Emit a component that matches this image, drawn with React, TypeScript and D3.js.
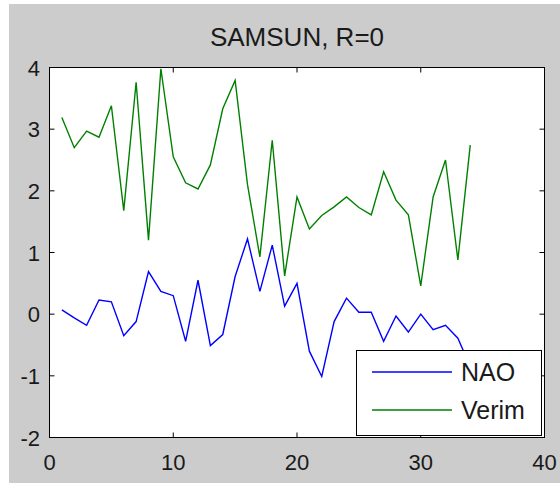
import React from "react";
import * as d3 from "d3";

const years = d3.range(1, 35);
const nao = [0.07, -0.06, -0.18, 0.23, 0.2, -0.35, -0.12, 0.69, 0.37, 0.3, -0.44, 0.55, -0.51, -0.33, 0.61, 1.22, 0.37, 1.12, 0.13, 0.5, -0.6, -1.01, -0.12, 0.26, 0.03, 0.03, -0.44, -0.03, -0.29, 0.0, -0.25, -0.18, -0.39, -0.85];
const verim = [3.19, 2.7, 2.97, 2.87, 3.38, 1.68, 3.76, 1.2, 3.98, 2.55, 2.13, 2.03, 2.42, 3.33, 3.79, 2.1, 0.93, 2.82, 0.62, 1.9, 1.38, 1.6, 1.74, 1.9, 1.73, 1.61, 2.31, 1.85, 1.61, 0.46, 1.9, 2.5, 0.88, 2.74];
const xTicks = [0, 10, 20, 30, 40];
const yTicks = [-2, -1, 0, 1, 2, 3, 4];
const title = "SAMSUN, R=0";
const seriesNames = ["NAO", "Verim"];
const seriesColors = ["#0000ff", "#008000"];

export default function App() {
  const W = 560, H = 485;
  const L = 49.5, R = 544.5, T = 67.5, B = 437.5;
  const x = d3.scaleLinear().domain([0, 40]).range([L, R]);
  const y = d3.scaleLinear().domain([-2, 4]).range([B, T]);
  const line = d3.line<number>().x((_, i) => x(years[i])).y((d) => y(d));
  const font = "'Liberation Sans', Arial, sans-serif";
  const tl = 5;
  const series = [nao, verim];
  return (
    <svg width={W} height={H} style={{ position: "absolute", left: 0, top: 0 }} fontFamily={font}>
      <rect x={0} y={0} width={W} height={H} fill="#ffffff" />
      <rect x={9} y={4} width={W - 9} height={479} fill="#cccccc" />
      <rect x={L} y={T} width={R - L} height={B - T} fill="#ffffff" />
      <text x={(L + R) / 2} y={46} textAnchor="middle" fontSize={26} fill="#1a1a1a">{title}</text>
      <defs>
        <clipPath id="plot">
          <rect x={L} y={T} width={R - L} height={B - T} />
        </clipPath>
      </defs>
      <g clipPath="url(#plot)" fill="none" strokeWidth={1.4}>
        {series.map((s, i) => (
          <path key={i} d={line(s) || ""} stroke={seriesColors[i]} />
        ))}
      </g>
      <g stroke="#000" strokeWidth={1}>
        {xTicks.map((t) => (
          <g key={"x" + t}>
            <line x1={x(t)} x2={x(t)} y1={B} y2={B - tl} />
            <line x1={x(t)} x2={x(t)} y1={T} y2={T + tl} />
          </g>
        ))}
        {yTicks.map((t) => (
          <g key={"y" + t}>
            <line x1={L} x2={L + tl} y1={y(t)} y2={y(t)} />
            <line x1={R} x2={R - tl} y1={y(t)} y2={y(t)} />
          </g>
        ))}
        <rect x={L} y={T} width={R - L} height={B - T} fill="none" />
      </g>
      <g fontSize={22} fill="#1a1a1a">
        {xTicks.map((t) => (
          <text key={"xl" + t} x={x(t)} y={470} textAnchor="middle">{t}</text>
        ))}
        {yTicks.map((t) => (
          <text key={"yl" + t} x={40} y={y(t) + 8} textAnchor="end">{t}</text>
        ))}
      </g>
      <g>
        <rect x={356.5} y={350.5} width={185} height={85} fill="#ffffff" stroke="#000" strokeWidth={1} />
        {seriesNames.map((n, i) => (
          <g key={n}>
            <line x1={372} x2={452} y1={372 + i * 38} y2={372 + i * 38} stroke={seriesColors[i]} strokeWidth={1.4} />
            <text x={461} y={372 + i * 38 + 9} fontSize={25} fill="#1a1a1a">{n}</text>
          </g>
        ))}
      </g>
    </svg>
  );
}
